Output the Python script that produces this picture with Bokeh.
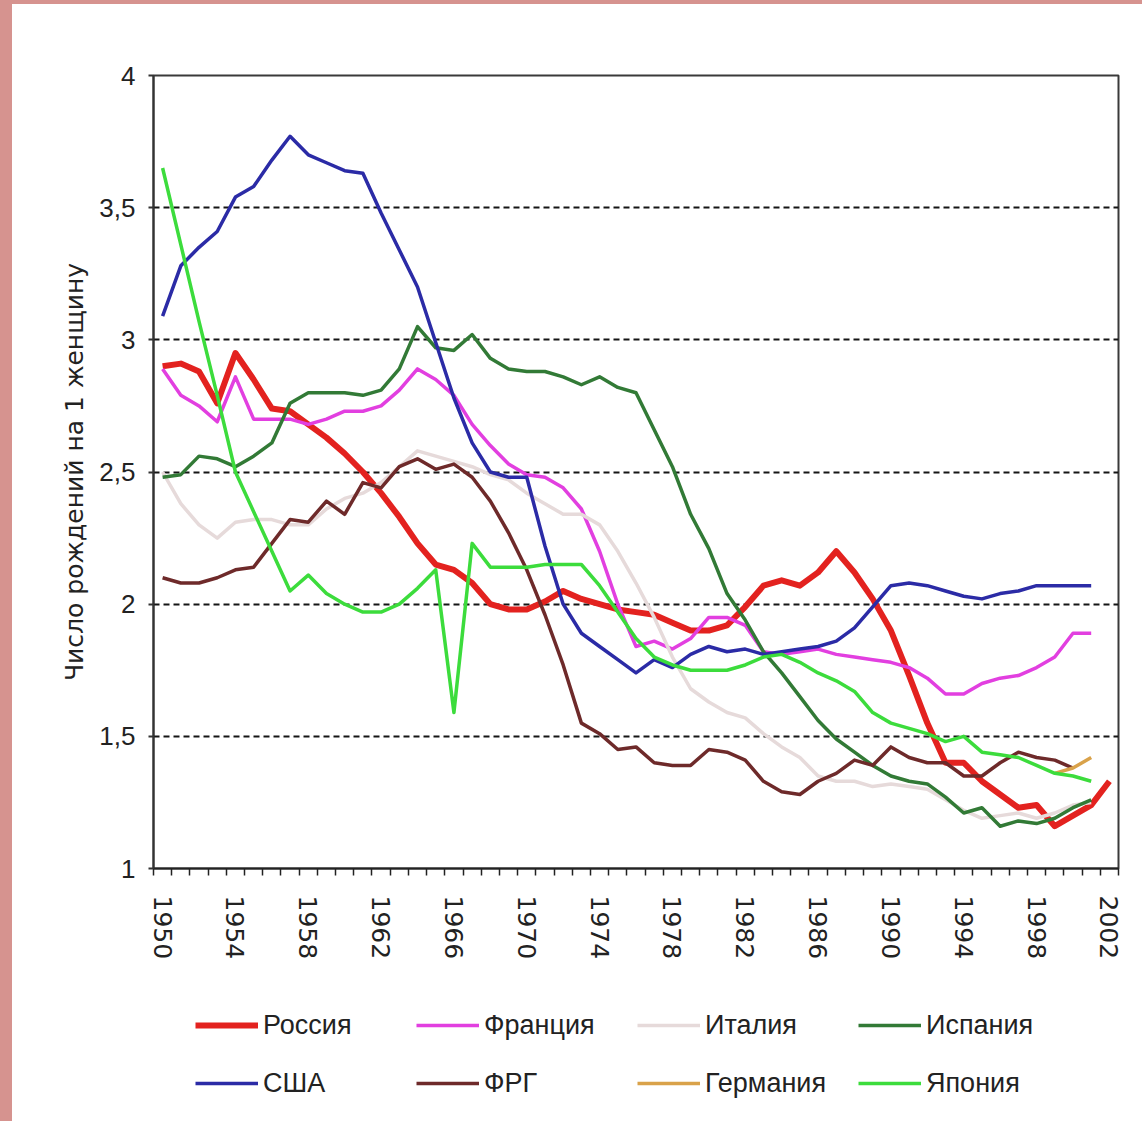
from bokeh.plotting import figure
from bokeh.layouts import column
from bokeh.models import Range1d, FixedTicker, Legend, LegendItem, GlobalInlineStyleSheet
from bokeh.embed import file_html
from bokeh.resources import INLINE

# ---------------- data ----------------
years_all = list(range(1950, 2003))          # 1950..2002
years_52 = list(range(1950, 2002))           # 1950..2001
years_frg = list(range(1950, 2001))          # 1950..2000
years_ger = [1999, 2000, 2001]

russia = [2.90, 2.91, 2.88, 2.76, 2.95, 2.85, 2.74, 2.73, 2.68, 2.63,
          2.57, 2.50, 2.42, 2.33, 2.23, 2.15, 2.13, 2.08, 2.00, 1.98,
          1.98, 2.01, 2.05, 2.02, 2.00, 1.98, 1.97, 1.96, 1.93, 1.90,
          1.90, 1.92, 1.99, 2.07, 2.09, 2.07, 2.12, 2.20, 2.12, 2.02,
          1.90, 1.73, 1.55, 1.40, 1.40, 1.33, 1.28, 1.23, 1.24, 1.16,
          1.20, 1.24, 1.33]
france = [2.89, 2.79, 2.75, 2.69, 2.86, 2.70, 2.70, 2.70, 2.68, 2.70,
          2.73, 2.73, 2.75, 2.81, 2.89, 2.85, 2.79, 2.68, 2.60, 2.53,
          2.49, 2.48, 2.44, 2.36, 2.20, 2.00, 1.84, 1.86, 1.83, 1.87,
          1.95, 1.95, 1.92, 1.82, 1.81, 1.82, 1.83, 1.81, 1.80, 1.79,
          1.78, 1.76, 1.72, 1.66, 1.66, 1.70, 1.72, 1.73, 1.76, 1.80,
          1.89, 1.89]
italy = [2.50, 2.38, 2.30, 2.25, 2.31, 2.32, 2.32, 2.30, 2.30, 2.36,
         2.40, 2.42, 2.46, 2.52, 2.58, 2.56, 2.54, 2.52, 2.49, 2.47,
         2.42, 2.38, 2.34, 2.34, 2.30, 2.20, 2.08, 1.95, 1.80, 1.68,
         1.63, 1.59, 1.57, 1.51, 1.46, 1.42, 1.35, 1.33, 1.33, 1.31,
         1.32, 1.31, 1.30, 1.26, 1.22, 1.19, 1.20, 1.21, 1.19, 1.21,
         1.24, 1.25]
spain = [2.48, 2.49, 2.56, 2.55, 2.52, 2.56, 2.61, 2.76, 2.80, 2.80,
         2.80, 2.79, 2.81, 2.89, 3.05, 2.97, 2.96, 3.02, 2.93, 2.89,
         2.88, 2.88, 2.86, 2.83, 2.86, 2.82, 2.80, 2.66, 2.52, 2.34,
         2.21, 2.04, 1.94, 1.82, 1.74, 1.65, 1.56, 1.49, 1.44, 1.39,
         1.35, 1.33, 1.32, 1.27, 1.21, 1.23, 1.16, 1.18, 1.17, 1.19,
         1.23, 1.26]
usa = [3.09, 3.28, 3.35, 3.41, 3.54, 3.58, 3.68, 3.77, 3.70, 3.67,
       3.64, 3.63, 3.48, 3.34, 3.20, 2.99, 2.78, 2.61, 2.50, 2.48,
       2.48, 2.22, 2.00, 1.89, 1.84, 1.79, 1.74, 1.79, 1.76, 1.81,
       1.84, 1.82, 1.83, 1.81, 1.82, 1.83, 1.84, 1.86, 1.91, 1.99,
       2.07, 2.08, 2.07, 2.05, 2.03, 2.02, 2.04, 2.05, 2.07, 2.07,
       2.07, 2.07]
frg = [2.10, 2.08, 2.08, 2.10, 2.13, 2.14, 2.23, 2.32, 2.31, 2.39,
       2.34, 2.46, 2.44, 2.52, 2.55, 2.51, 2.53, 2.48, 2.39, 2.27,
       2.13, 1.96, 1.77, 1.55, 1.51, 1.45, 1.46, 1.40, 1.39, 1.39,
       1.45, 1.44, 1.41, 1.33, 1.29, 1.28, 1.33, 1.36, 1.41, 1.39,
       1.46, 1.42, 1.40, 1.40, 1.35, 1.35, 1.40, 1.44, 1.42, 1.41,
       1.38]
germany = [1.36, 1.38, 1.42]
japan = [3.65, 3.36, 3.07, 2.79, 2.50, 2.35, 2.20, 2.05, 2.11, 2.04,
         2.00, 1.97, 1.97, 2.00, 2.06, 2.13, 1.59, 2.23, 2.14, 2.14,
         2.14, 2.15, 2.15, 2.15, 2.07, 1.97, 1.87, 1.80, 1.77, 1.75,
         1.75, 1.75, 1.77, 1.80, 1.81, 1.78, 1.74, 1.71, 1.67, 1.59,
         1.55, 1.53, 1.51, 1.48, 1.50, 1.44, 1.43, 1.42, 1.39, 1.36,
         1.35, 1.33]

y_ticks = [1, 1.5, 2, 2.5, 3, 3.5, 4]
y_tick_labels = ["1", "1,5", "2", "2,5", "3", "3,5", "4"]
x_label_years = list(range(1950, 2003, 4))
y_title = "Число рождений на 1 женщину"

series = [
    ("Россия", years_all, russia, "#e3221f", 6),
    ("Франция", years_52, france, "#e23fe0", 3.5),
    ("Италия", years_52, italy, "#e6dada", 3.5),
    ("Испания", years_52, spain, "#327a36", 3.5),
    ("США", years_52, usa, "#2b2ba6", 3.5),
    ("ФРГ", years_frg, frg, "#6e2a2a", 3.5),
    ("Германия", years_ger, germany, "#d9a24a", 3.5),
    ("Япония", years_52, japan, "#3cdc3c", 3.5),
]

NARROW = "Liberation Sans Narrow, Liberation Sans"
WIDE = "DejaVu Sans"

css = GlobalInlineStyleSheet(css="""
html, body { margin: 0; padding: 0; background: #d6938f; overflow: hidden; }
body { padding: 4px 0 0 12px; }
""")

MAIN_H = 986
LEG_H = 131

p = figure(width=1130, height=MAIN_H,
           x_range=Range1d(1949.5, 2002.5), y_range=Range1d(1, 4),
           output_backend="svg", toolbar_location=None,
           min_border_left=141, min_border_right=24,
           min_border_top=71, min_border_bottom=MAIN_H - 71 - 793,
           background_fill_color="white", border_fill_color="white")

p.outline_line_color = "#3a3a3a"
p.outline_line_width = 2

# grid
p.xgrid.visible = False
p.ygrid.ticker = FixedTicker(ticks=[1.5, 2, 2.5, 3, 3.5])
p.ygrid.grid_line_color = "#151515"
p.ygrid.grid_line_dash = "6 4"
p.ygrid.grid_line_width = 2

# y axis
p.yaxis.ticker = FixedTicker(ticks=y_ticks)
p.yaxis.major_label_overrides = {t: l for t, l in zip(y_ticks, y_tick_labels)}
p.yaxis.axis_line_color = "#333333"
p.yaxis.axis_line_width = 2
p.yaxis.major_tick_out = 5
p.yaxis.major_tick_in = 0
p.yaxis.major_tick_line_color = "#333333"
p.yaxis.major_tick_line_width = 2
p.yaxis.minor_tick_line_color = None
p.yaxis.major_label_text_font = NARROW
p.yaxis.major_label_text_font_size = "26px"
p.yaxis.major_label_text_color = "#222222"
p.yaxis.major_label_standoff = 13
p.yaxis.axis_label = y_title
p.yaxis.axis_label_text_font = WIDE
p.yaxis.axis_label_text_font_size = "25px"
p.yaxis.axis_label_text_font_style = "normal"
p.yaxis.axis_label_text_color = "#222222"
p.yaxis.axis_label_standoff = 7

# x axis
p.xaxis.ticker = FixedTicker(ticks=x_label_years,
                             minor_ticks=[1949.5 + i for i in range(54)])
p.xaxis.axis_line_color = "#222222"
p.xaxis.axis_line_width = 2
p.xaxis.major_tick_out = 0
p.xaxis.major_tick_in = 0
p.xaxis.minor_tick_out = 7
p.xaxis.minor_tick_in = 0
p.xaxis.minor_tick_line_color = "#222222"
p.xaxis.minor_tick_line_width = 1.5
p.xaxis.major_label_orientation = "vertical"
p.xaxis.major_label_standoff = 20
p.xaxis.major_label_text_font = WIDE
p.xaxis.major_label_text_font_size = "25px"
p.xaxis.major_label_text_color = "#222222"

for name, xs, ys, color, lw in series:
    p.line(xs, ys, line_color=color, line_width=lw, line_join="round")

# ---------------- legend panel ----------------
pl = figure(width=1130, height=LEG_H, x_range=Range1d(0, 1), y_range=Range1d(0, 1),
            output_backend="svg", toolbar_location=None,
            x_axis_type=None, y_axis_type=None,
            min_border_left=141, min_border_right=24,
            min_border_top=0, min_border_bottom=0,
            background_fill_color="white", background_fill_alpha=0,
            border_fill_color="white")
pl.outline_line_color = None
pl.grid.visible = False

leg_r = {}
for name, xs, ys, color, lw in series:
    # legend-only renderers: one invisible (NaN) point each
    leg_r[name] = pl.line([0.5], [float("nan")], line_color=color, line_width=lw)

def make_legend(names, vy):
    return Legend(items=[LegendItem(label=n, renderers=[leg_r[n]]) for n in names],
                  orientation="horizontal", location=(42, vy),
                  glyph_width=63, glyph_height=34, label_height=34,
                  label_width=140, label_standoff=5, spacing=13,
                  padding=0, margin=0, border_line_color=None,
                  background_fill_alpha=0,
                  label_text_font=NARROW, label_text_font_size="27px",
                  label_text_color="#222222")

pl.add_layout(make_legend(["Россия", "Франция", "Италия", "Испания"], 79), "center")
pl.add_layout(make_legend(["США", "ФРГ", "Германия", "Япония"], 21), "center")

layout = column(p, pl, spacing=0)
layout.stylesheets = [css]
layout.styles = {"background-color": "white"}

open("out.html", "w").write(file_html(layout, INLINE))
